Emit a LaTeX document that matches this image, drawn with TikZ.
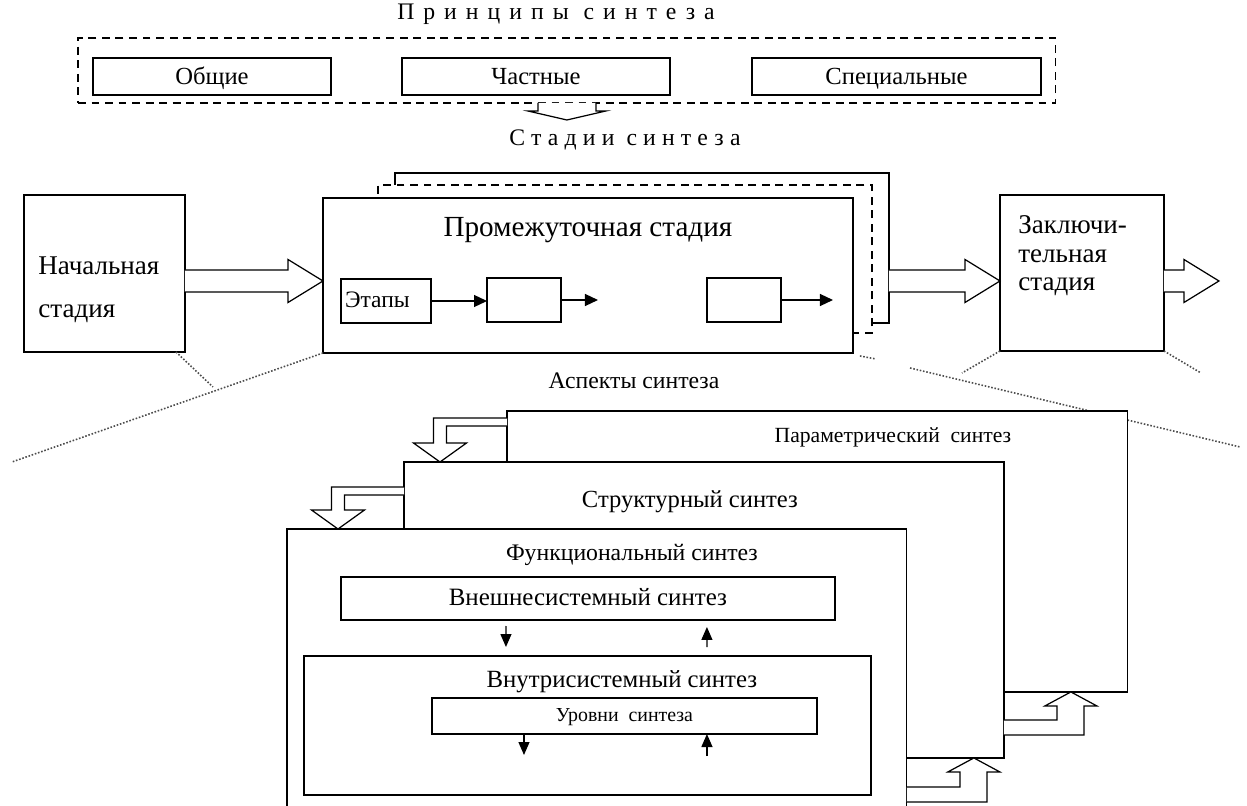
\documentclass[tikz,border=0pt]{standalone}
\usepackage{fontspec}
\setmainfont{Liberation Serif}
\usetikzlibrary{positioning, arrows.meta, calc}

\begin{document}
\begin{tikzpicture}[
    x=0.02cm, y=-0.02cm,
    frame/.style 2 args={draw, fill=white, line width=0.7pt, inner sep=0pt, outer sep=0pt, anchor=north west, minimum width=#1*0.2mm, minimum height=#2*0.2mm, align=center},
    mid/.style={text height=#1, text depth=0pt},
    dashframe/.style={dash pattern=on 4.5pt off 3.2pt},
    lbl/.style={inner sep=0pt, align=center},
    arrow/.style={-{Triangle[length=2.6mm, width=2.4mm]}, line width=0.7pt},
    smallarrow/.style={-{Triangle[length=2.6mm, width=2.2mm]}, line width=0.7pt},
    dotline/.style={densely dotted, line width=0.9pt, black!70},
    hollow/.style={draw, fill=white, line width=0.7pt, line join=miter},
    harrow/.style={hollow, to path={let \p1=(\tikztostart), \p2=(\tikztotarget) in
        (\x1,\y1+2.2mm) -- (\x2-7mm,\y1+2.2mm) -- (\x2-7mm,\y1+4.3mm) -- (\x2,\y1)
        -- (\x2-7mm,\y1-4.3mm) -- (\x2-7mm,\y1-2.2mm) -- (\x1,\y1-2.2mm)}},
    downarrow/.style={hollow, to path={let \p1=(\tikztostart), \p2=(\tikztotarget) in
        (\x1-5.8mm,\y1) -- (\x1-5.8mm,\y2+1.8mm) -- (\x1-7.8mm,\y2+1.8mm) -- (\x1,\y2)
        -- (\x1+7.8mm,\y2+1.8mm) -- (\x1+5.8mm,\y2+1.8mm) -- (\x1+5.8mm,\y1)}},
    bentdown/.style={hollow, to path={let \p1=(\tikztostart), \p2=(\tikztotarget) in
        (\x1,\y1) -- (\x2-1.3mm,\y1) -- (\x2-1.3mm,\y2+3.8mm) -- (\x2-5.3mm,\y2+3.8mm) -- (\x2,\y2)
        -- (\x2+5.3mm,\y2+3.8mm) -- (\x2+1.3mm,\y2+3.8mm) -- (\x2+1.3mm,\y1-1.6mm) -- (\x1,\y1-1.6mm)}},
    bentup/.style={hollow, to path={let \p1=(\tikztostart), \p2=(\tikztotarget) in
        (\x1,\y1) -- (\x2-2.8mm,\y1) -- (\x2-2.8mm,\y2-2.8mm) -- (\x2-5.2mm,\y2-2.8mm) -- (\x2,\y2)
        -- (\x2+5.2mm,\y2-2.8mm) -- (\x2+2.6mm,\y2-2.8mm) -- (\x2+2.6mm,\y1-3mm) -- (\x1,\y1-3mm)}}
]
    \useasboundingbox (0,0) rectangle (1247,805);
    \clip (0,0) rectangle (1247,805);

    % principles
    \node[lbl, font=\fontsize{13.5}{15}\selectfont\addfontfeature{LetterSpace=38}] (prinTitle) at (556,14) {Принципы синтеза};
    \node[frame={978}{65}, dashframe, fill=none] (prinFrame) at (78,38) {};
    \node[frame={238}{37}, mid=8.6pt, font=\fontsize{14}{16}\selectfont] (obsh) at (93,58) {Общие};
    \node[frame={268}{37}, mid=8.6pt, font=\fontsize{14}{16}\selectfont] (chast) at (402,58) {Частные};
    \node[frame={289}{37}, mid=8.6pt, font=\fontsize{14}{16}\selectfont] (spec) at (752,58) {Специальные};
    \draw[downarrow] (prinFrame.south) to ++(0mm,-3.4mm);
    \node[lbl, font=\fontsize{13.5}{15}\selectfont\addfontfeature{LetterSpace=26}] (stadTitle) at (625,140) {Стадии синтеза};

    % stages
    \node[frame={161}{157}] (nach) at (24,195) {};
    \node[lbl, anchor=north west, align=left, font=\fontsize{15.4}{24.4}\selectfont] (nachText) at ([shift={(2.8mm,-12.3mm)}]nach.north west) {Начальная\\стадия};
    \node[frame={494}{150}] (promBack2) at (395,173) {};
    \node[frame={494}{148}, dashframe] (promBack1) at (378,185) {};
    \node[frame={530}{155}] (prom) at (323,198) {};
    \node[lbl, font=\fontsize{16.6}{19}\selectfont] (promText) at ([yshift=-6.4mm]prom.north) {Промежуточная стадия};
    \node[frame={90}{44}, mid=7.6pt, text width=16.4mm, align=left, font=\fontsize{13.4}{15}\selectfont] (etap) at (341,279) {Этапы};
    \node[frame={74}{44}] (stepB) at (487,278) {};
    \node[frame={74}{44}] (stepC) at (707,278) {};
    \draw[arrow] (etap.east) -- (etap.east -| stepB.west);
    \draw[arrow] (stepB.east) -- ++(7.4mm,0mm);
    \draw[arrow] (stepC.east) -- ++(10.4mm,0mm);
    \node[frame={164}{156}] (zakl) at (1000,195) {};
    \node[lbl, anchor=north west, align=left, font=\fontsize{15.4}{16.4}\selectfont] (zaklText) at ([shift={(3.6mm,-4mm)}]zakl.north west) {Заключи-\\тельная\\стадия};

    \draw[harrow] ([yshift=-1.5mm]nach.east) to (prom.west);
    \draw[harrow] ([yshift=-6.6mm]promBack2.east) to (zakl.west);
    \draw[harrow] ([yshift=-1.6mm]zakl.east) to ++(11mm,0mm);

    \draw[dotline] ([xshift=-1.8mm]nach.south east) -- ++(7.4mm,-7mm);
    \draw[dotline] (prom.south west) -- ++(-62.2mm,-21.8mm);
    \draw[dotline] ([shift={(1.4mm,-0.6mm)}]prom.south east) -- ++(3.2mm,-0.6mm);
    \draw[dotline] ([shift={(-18mm,-3.4mm)}]zakl.south west) -- ++(66mm,-15.8mm);
    \draw[dotline] (zakl.south west) -- ++(-7.6mm,-4.4mm);
    \draw[dotline] (zakl.south east) -- ++(7.4mm,-4.4mm);

    % aspects
    \node[lbl, font=\fontsize{13.5}{16}\selectfont] (aspText) at (634,381) {Аспекты синтеза};
    \node[frame={621}{281}] (param) at (507,411) {};
    \node[lbl, font=\fontsize{12.3}{14}\selectfont] (paramText) at ([shift={(15.1mm,-5.2mm)}]param.north) {Параметрический\ \ синтез};
    \node[frame={600}{296}] (struct) at (404,462) {};
    \node[lbl, font=\fontsize{14}{16}\selectfont] (structText) at ([shift={(-2.8mm,-8mm)}]struct.north) {Структурный синтез};
    \node[frame={620}{301}] (func) at (287,529) {};
    \node[lbl, font=\fontsize{13.5}{16}\selectfont] (funcText) at ([shift={(7mm,-5.2mm)}]func.north) {Функциональный синтез};
    \node[frame={494}{43}, mid=8.2pt, font=\fontsize{14.2}{16}\selectfont] (vnesh) at (341,577) {Внешнесистемный синтез};
    \node[frame={567}{139}] (vnutr) at (304,656) {};
    \node[lbl, font=\fontsize{14.1}{16}\selectfont] (vnutrText) at ([shift={(6.9mm,-5.2mm)}]vnutr.north) {Внутрисистемный синтез};
    \node[frame={385}{36}, mid=6.6pt, font=\fontsize{11.3}{13}\selectfont] (urov) at (432,698) {Уровни\ \ синтеза};

    \draw[smallarrow, shorten <=1.2mm, shorten >=1.8mm] ([xshift=-16.4mm]vnesh.south) -- ([xshift=-16.3mm]vnutr.north);
    \draw[smallarrow, shorten <=1.8mm, shorten >=1.4mm] ([xshift=23.9mm]vnutr.north) -- ([xshift=23.8mm]vnesh.south);
    \draw[smallarrow] ([xshift=-20.1mm]urov.south) -- ++(0mm,-4.2mm);
    \draw[smallarrow] ([shift={(16.5mm,-4.4mm)}]urov.south) -- ([xshift=16.5mm]urov.south);

    \draw[bentdown] ([yshift=-1.4mm]param.north west) to ([xshift=7.2mm]struct.north west);
    \draw[bentdown] ([yshift=-5mm]struct.north west) to ([xshift=10.2mm]func.north west);
    \draw[bentup] ([yshift=7.6mm]struct.south east) to ([xshift=-11.4mm]param.south east);
    \draw[bentup] ([yshift=-51.6mm]func.north east) to ([xshift=-6mm]struct.south east);
\end{tikzpicture}
\end{document}
